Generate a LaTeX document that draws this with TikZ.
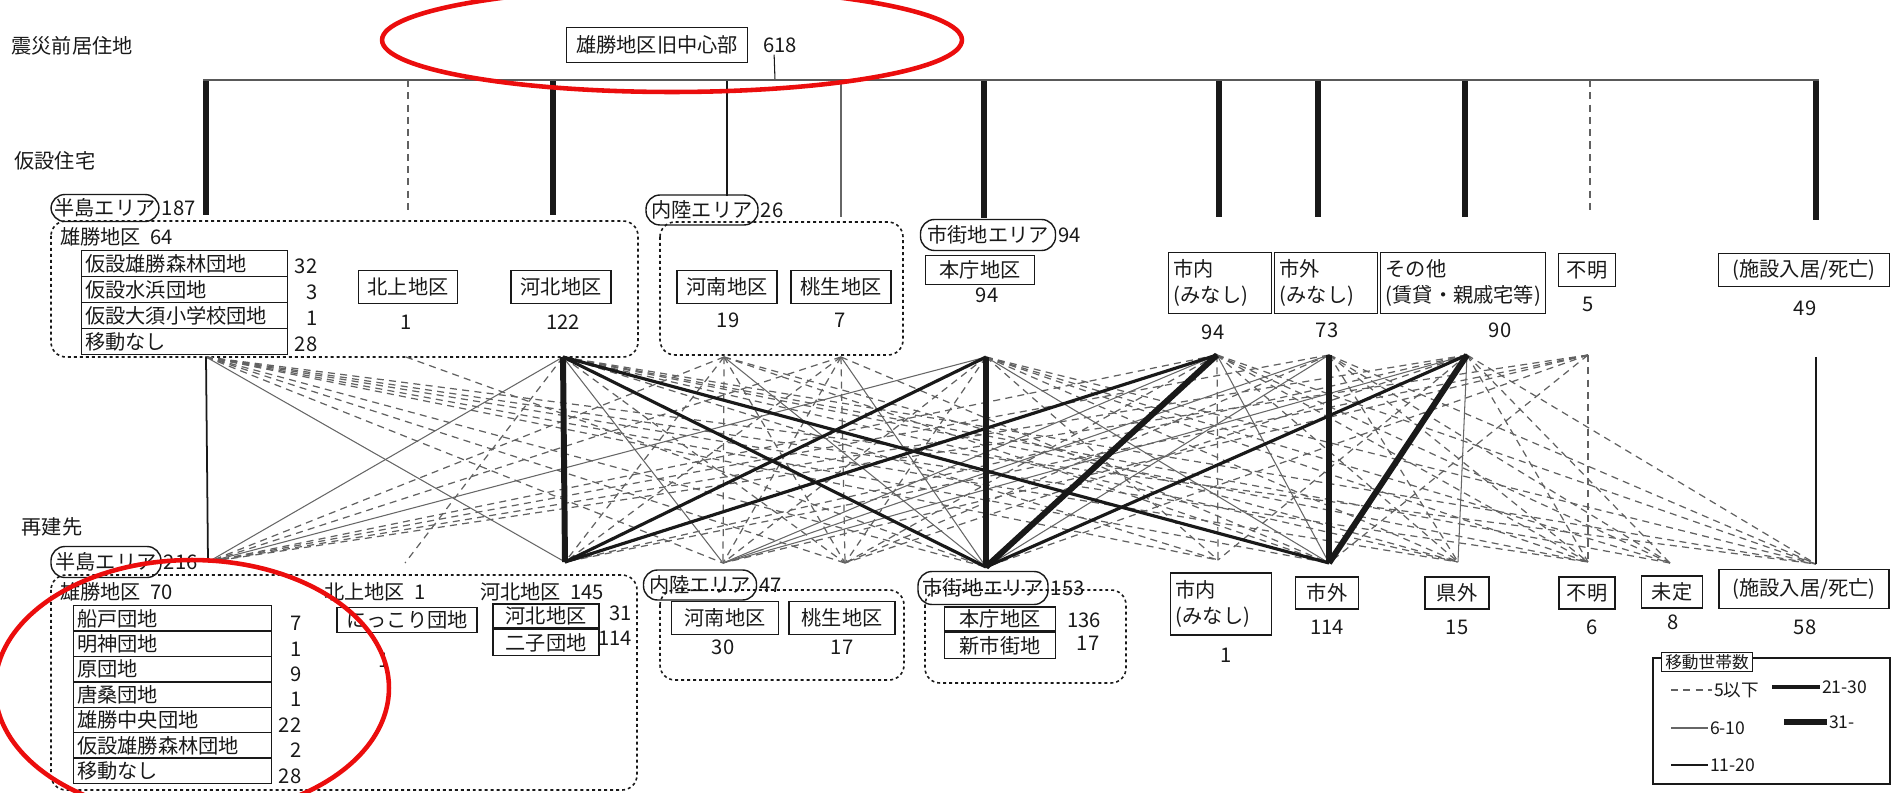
\documentclass[tikz,border=0pt]{standalone}
\usepackage{fontspec}
\setmainfont{Noto Sans CJK JP}
\usetikzlibrary{positioning}

\tikzset{
  lbl/.style={inner sep=1pt, text=ink},
  num/.style={inner sep=1pt, text=ink},
  box/.style={draw=ink, line width=0.8pt, inner xsep=3pt, inner ysep=1pt, text=ink},
  boxl/.style={box, align=left, text width=#1},
  area/.style={draw=ink, line width=0.8pt, rounded corners=0.28cm, inner xsep=1pt, inner ysep=1pt, text=ink},
  grp/.style={draw=ink, line width=0.9pt, dash pattern=on 1.7pt off 1.7pt, rounded corners=0.3cm},
  rowa/.style={draw=ink, line width=0.8pt, inner xsep=2pt, inner ysep=0pt, text width=3.98cm, align=left, minimum height=0.52cm, anchor=north west, text=ink},
  rowb/.style={rowa, text width=3.82cm, minimum height=0.508cm},
  wh/.style 2 args={minimum width=#1, minimum height=#2},
  bar/.style={draw=cbar, line width=1.3pt},
  w5/.style={draw=cdash, line width=0.7pt, dash pattern=on 4pt off 3pt},
  w6/.style={draw=cthin, line width=0.6pt},
  w11/.style={draw=ink, line width=1.0pt},
  w21/.style={draw=ink, line width=1.8pt},
  w31/.style={draw=ink, line width=3.4pt},
  ring/.style={draw=cmark, line width=2.6pt},
}

\begin{document}
\begin{tikzpicture}[x=0.02cm, y=-0.02cm, every node/.style={font=\fontsize{11.5}{15}\selectfont}]
%
\useasboundingbox (0,0) rectangle (1892,793);
%
\definecolor{ink}{rgb}{0.1,0.1,0.1}
\definecolor{cbar}{rgb}{0.35,0.35,0.35}
\definecolor{cdash}{rgb}{0.38,0.38,0.38}
\definecolor{cthin}{rgb}{0.4,0.4,0.4}
\definecolor{cmark}{rgb}{0.92,0.05,0.05}
%
% before the disaster
\node[lbl] (hPre) at (72,46) {震災前居住地};
\node[box, wh={3.62cm}{0.70cm}] (top) at (657,45) {雄勝地区旧中心部};
\node[num, anchor=west] (n618) at ([xshift=0.26cm]top.east) {618};
\coordinate (p0) at (775,80);
\draw[w6, draw=ink] ([xshift=-0.12cm]n618.south) -- (p0);
%
\foreach \n/\x/\y/\s in {1/206/215/w31, 2/408/210/w5, 3/553/215/w31, 4/727/196/w11,
  5/841/217/w6, 6/984/218/w31, 7/1219/217/w31, 8/1318/217/w31, 9/1465/217/w31,
  10/1590/212/w5, 11/1816/220/w31}
  {\coordinate (p\n) at (\x,80);
   \coordinate (q\n) at (\x,\y);
   \draw[\s] (p\n) -- (q\n);}
\draw[bar] ([xshift=-0.06cm]p1) -- ([xshift=0.06cm]p11);
%
% temporary housing
\node[lbl] (hTmp) at (55,161) {仮設住宅};
\draw[grp] (51,221) rectangle (638,357);
\draw[grp] (660,222) rectangle (903,355);
\node[area, wh={2.16cm}{0.54cm}] (ovA) at (105,208) {半島エリア};
\node[num, anchor=west] (nA) at (ovA.east) {187};
\node[lbl, anchor=west] (kOg) at (58,237) {雄勝地区\hspace{0.45em}64};
\foreach \t [count=\i] in {仮設雄勝森林団地, 仮設水浜団地, 仮設大須小学校団地, 移動なし}
  \node[rowa] (ka\i) at (81,{250+26*(\i-1)}) {\t};
\foreach \v [count=\i] in {32, 3, 1, 28}
  \node[num, anchor=east] (kn\i) at ([xshift=0.62cm, yshift=-0.06cm]ka\i.east) {\v};
\node[box, wh={1.98cm}{0.66cm}] (kKt) at (408,287) {北上地区};
\node[num] (nKt) at (406,322) {1};
\node[box, wh={2.0cm}{0.66cm}] (kKh) at (561,287) {河北地区};
\node[num] (nKh) at (563,322) {122};
\node[area, wh={2.24cm}{0.60cm}] (ovB) at (702,210) {内陸エリア};
\node[num, anchor=west] (nB) at (ovB.east) {26};
\node[box, wh={2.0cm}{0.66cm}] (kKn) at (727,287) {河南地区};
\node[num] (nKn) at (728,320) {19};
\node[box, wh={2.0cm}{0.66cm}] (kMo) at (841,287) {桃生地区};
\node[num] (nMo) at (840,320) {7};
\node[area, wh={2.70cm}{0.62cm}] (ovC) at (988,235) {市街地エリア};
\node[num, anchor=west] (nC) at (ovC.east) {94};
\node[box, wh={2.18cm}{0.58cm}] (kHc) at (980,270) {本庁地区};
\node[num] (nHc) at (987,295) {94};
\node[boxl=1.85cm, wh={2.06cm}{1.22cm}] (kSn) at (1220,283) {市内\\(みなし)};
\node[num] (nSn) at (1213,332) {94};
\node[boxl=1.85cm, wh={2.06cm}{1.22cm}] (kSg) at (1326,283) {市外\\(みなし)};
\node[num] (nSg) at (1327,330) {73};
\node[boxl=3.09cm, wh={3.30cm}{1.22cm}] (kEt) at (1463,283) {その他\\(賃貸・親戚宅等)};
\node[num] (nEt) at (1500,330) {90};
\node[box, wh={1.14cm}{0.66cm}] (kFm) at (1587,270) {不明};
\node[num] (nFm) at (1588,304) {5};
\node[box, wh={3.42cm}{0.66cm}] (kSs) at (1804,270) {(施設入居/死亡)};
\node[num] (nSs) at (1805,308) {49};
%
% mesh end points
\foreach \n/\x/\y in {1/206/357, 2/563/357, 3/724/357, 4/841/357, 5/986/357, 6/1217/355,
  7/1329/355, 8/1467/355, 9/1588/355, 10/1816/357, 11/406/357}
  \coordinate (T\n) at (\x,\y);
\foreach \n/\x/\y in {1/208/562, 2/565/562, 3/723/563, 4/845/563, 5/986/567, 6/1218/560,
  7/1329/563, 8/1458/562, 9/1588/562, 10/1670/563, 11/1816/564, 12/405/563}
  \coordinate (B\n) at (\x,\y);
%
\foreach \a/\b in {T1/B3, T1/B4, T1/B5, T1/B6, T1/B7, T1/B8, T1/B9, T1/B11,
  T3/B1, T4/B1, T6/B1, T7/B1, T8/B1, T9/B1,
  T2/B4, T2/B6, T2/B8, T2/B9, T2/B10, T2/B11, T2/B12,
  T3/B2, T4/B2, T8/B2, T9/B2,
  T3/B3, T3/B4, T3/B7, T3/B8, T4/B3, T4/B4, T4/B7,
  T5/B3, T5/B4, T5/B6, T5/B8, T5/B9, T5/B10, T5/B11,
  T6/B6, T6/B4, T6/B8, T6/B9, T6/B10, T6/B11,
  T7/B4, T7/B8, T7/B9, T7/B10, T7/B11,
  T8/B4, T8/B6, T8/B9, T8/B10, T8/B11,
  T9/B9, T9/B3, T9/B5, T9/B7, T11/B5}
  \draw[w5] (\a) -- (\b);
\foreach \a/\b in {T1/B2, T2/B1, T5/B1, T2/B3, T3/B5, T4/B5, T5/B7, T6/B3, T6/B7,
  T7/B3, T7/B5, T8/B3, T8/B8}
  \draw[w6] (\a) -- (\b);
\foreach \a/\b in {T1/B1, T10/B11}
  \draw[w11] (\a) -- (\b);
\foreach \a/\b in {T2/B5, T2/B7, T5/B2, T6/B2, T8/B5}
  \draw[w21] (\a) -- (\b);
\foreach \a/\b in {T2/B2, T5/B5, T6/B5, T7/B7, T8/B7}
  \draw[w31] (\a) -- (\b);
%
% rebuilt homes
\node[lbl] (hNew) at (52,527) {再建先};
\draw[grp] (51,575) rectangle (637,790);
\draw[grp] (660,590) rectangle (904,680);
\draw[grp] (925,590) rectangle (1126,683);
\node[area, wh={2.20cm}{0.62cm}] (ovD) at (106,562) {半島エリア};
\node[num, anchor=west] (nD) at (ovD.east) {216};
\node[lbl, anchor=west] (rOg) at (58,592) {雄勝地区\hspace{0.45em}70};
\foreach \t [count=\i] in {船戸団地, 明神団地, 原団地, 唐桑団地, 雄勝中央団地, 仮設雄勝森林団地, 移動なし}
  \node[rowb] (ra\i) at (73,{605+25.4*(\i-1)}) {\t};
\foreach \v [count=\i] in {7, 1, 9, 1, 22, 2, 28}
  \node[num, anchor=east] (rn\i) at ([xshift=0.62cm, yshift=-0.1cm]ra\i.east) {\v};
\node[lbl, anchor=west] (rKt) at (322,592) {北上地区\hspace{0.45em}1};
\node[box, wh={2.80cm}{0.50cm}] (rNk) at (407,620) {にっこり団地};
\node[num] (nNk) at (384,660) {1};
\node[lbl, anchor=west] (rKh) at (478,592) {河北地区\hspace{0.45em}145};
\node[box, wh={2.12cm}{0.48cm}, inner ysep=0pt] (rKh1) at (546,616) {河北地区};
\node[box, wh={2.12cm}{0.52cm}, inner ysep=0pt, below=0pt of rKh1] (rKh2) {二子団地};
\node[num, anchor=east] (nKh1) at (634,613) {31};
\node[num, anchor=east] (nKh2) at (634,638) {114};
\node[area, wh={2.26cm}{0.60cm}] (ovE) at (700,585) {内陸エリア};
\node[num, anchor=west] (nE) at (ovE.east) {47};
\node[box, wh={2.14cm}{0.66cm}] (rKn) at (725,618) {河南地区};
\node[num] (nKn2) at (723,647) {30};
\node[box, wh={2.12cm}{0.66cm}] (rMo) at (842,618) {桃生地区};
\node[num] (nMo2) at (842,647) {17};
\node[area, wh={2.60cm}{0.66cm}] (ovF) at (983,588) {市街地エリア};
\node[num, anchor=west] (nF) at (ovF.east) {153};
\node[box, wh={2.22cm}{0.48cm}, inner ysep=0pt] (rHc1) at (1000,619) {本庁地区};
\node[box, wh={2.22cm}{0.52cm}, inner ysep=0pt, below=0pt of rHc1] (rHc2) {新市街地};
\node[num] (nHc1) at (1084,620) {136};
\node[num] (nHc2) at (1088,643) {17};
\node[boxl=1.81cm, wh={2.02cm}{1.24cm}] (rSn) at (1221,604) {市内\\(みなし)};
\node[num] (nSn2) at (1226,655) {1};
\node[box, wh={1.26cm}{0.64cm}] (rSg) at (1327,593) {市外};
\node[num] (nSg2) at (1327,627) {114};
\node[box, wh={1.28cm}{0.64cm}] (rKg) at (1457,593) {県外};
\node[num] (nKg) at (1457,627) {15};
\node[box, wh={1.12cm}{0.64cm}] (rFm) at (1587,593) {不明};
\node[num] (nFm2) at (1592,627) {6};
\node[box, wh={1.22cm}{0.64cm}] (rMt) at (1672,592) {未定};
\node[num] (nMt) at (1673,622) {8};
\node[box, wh={3.40cm}{0.78cm}] (rSs) at (1804,589) {(施設入居/死亡)};
\node[num] (nSs2) at (1805,627) {58};
%
% legend
\node[draw=ink, line width=0.9pt, wh={4.74cm}{2.52cm}] (lgd) at (1771.5,721) {};
\node[box, fill=white, inner xsep=2pt, font=\fontsize{9.5}{11}\selectfont] (lgT) at (1707,662) {移動世帯数};
\begin{scope}[every node/.style={font=\fontsize{10}{12}\selectfont}]
\coordinate (l1) at (1671,690);
\node[lbl, anchor=west] (lt1) at (1712,690) {5以下};
\coordinate (l2) at (1671,728);
\node[lbl, anchor=west] (lt2) at (1708,728) {6-10};
\coordinate (l3) at (1671,765);
\node[lbl, anchor=west] (lt3) at (1708,765) {11-20};
\coordinate (l4) at (1772,687);
\node[lbl, anchor=west] (lt4) at (1820,687) {21-30};
\coordinate (l5) at (1784,722);
\node[lbl, anchor=west] (lt5) at (1827,722) {31-};
\end{scope}
\draw[w5] (l1) -- (lt1.west);
\draw[w6] (l2) -- (lt2.west);
\draw[w11] (l3) -- (lt3.west);
\draw[w21] (l4) -- (lt4.west);
\draw[w31] (l5) -- (lt5.west);
%
% red marks
\begin{scope}
\clip (0,0) rectangle (1892,793);
\draw[ring] (672,40) ellipse [x radius=5.8cm, y radius=1.04cm];
\draw[ring] (192,688) ellipse [x radius=3.94cm, y radius=2.56cm];
\end{scope}
%
\end{tikzpicture}
\end{document}
